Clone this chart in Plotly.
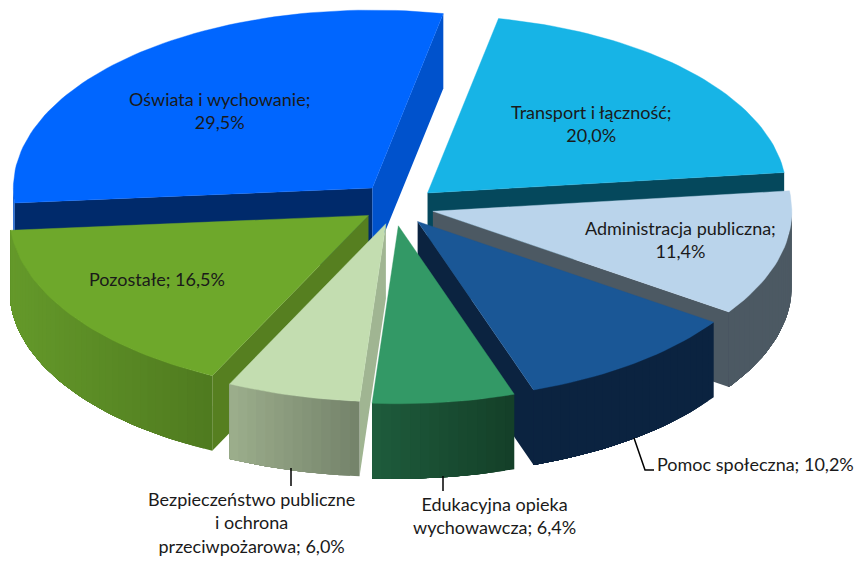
import math
import plotly.graph_objects as go

# ---- data ----
categories = ["Transport i łączność", "Administracja publiczna", "Pomoc społeczna",
              "Edukacyjna opieka wychowawcza", "Bezpieczeństwo publiczne i ochrona przeciwpożarowa",
              "Pozostałe", "Oświata i wychowanie"]
shares = [20.0, 11.4, 10.2, 6.4, 6.0, 16.5, 29.5]
explode = [0.108, 0.10, 0.095, 0.095, 0.12, 0.103, 0.12]

# ---- style ----
top_colors = ["#17B4E6", "#BAD4EB", "#1A5796", "#339966", "#C3DDB0", "#6EA82B", "#0066FF"]
wall_left = ["#05485C", "#4C5963", "#0B2340", "#1E5C3C", "#9CAE8C", "#64992A", "#0052CC"]
wall_right = ["#05485C", "#4C5963", "#0B2340", "#143F28", "#74826A", "#4F7A1F", "#0052CC"]
start_face = [None, None, None, None, "#A0B592", "#567F20", "#002A6B"]
end_face = ["#05485C", "#4C5963", "#0B2340", None, None, None, "#0052CC"]
nudge_x = [-1, -2, -3, -6, -3, -1, 1]
nudge_y = [1, 2, 3, 4, -2, 0, -1]
draw_order = [6, 0, 5, 1, 2, 4, 3]
START_DEG = 11.4
CX, CY, RX, RY, DEPTH = 400.0, 205.0, 359.0, 178.0, 75.0

labels = [
    ("Transport i łączność;<br>20,0%", 591, 123),
    ("Administracja publiczna;<br>11,4%", 680, 239),
    ("Pomoc społeczna; 10,2%", 755, 464),
    ("Edukacyjna opieka<br>wychowawcza; 6,4%", 494, 515),
    ("Bezpieczeństwo publiczne<br>i ochrona<br>przeciwpożarowa; 6,0%", 251, 522),
    ("Pozostałe; 16,5%", 157, 279),
    ("Oświata i wychowanie;<br>29,5%", 219, 110),
]
leaders = [([291, 291], [468, 486]), ([443, 443], [476, 491]),
           ([634, 645, 654], [438, 470, 470])]


def rim(cx, cy, deg, dy=0.0):
    t = math.radians(deg)
    return cx + RX * math.sin(t), cy - RY * math.cos(t) + dy


fig = go.Figure()


def poly(xs, ys, color, lw=0.0):
    fig.add_trace(go.Scatter(x=xs, y=ys, mode="lines", fill="toself", fillcolor=color,
                             line=dict(color=color, width=lw), hoverinfo="skip", showlegend=False))


def mix(c1, c2, f):
    a = [int(c1[i:i + 2], 16) for i in (1, 3, 5)]
    b = [int(c2[i:i + 2], 16) for i in (1, 3, 5)]
    return "#%02X%02X%02X" % tuple(round(p + (q - p) * f) for p, q in zip(a, b))


# slice angles come from the shares
spans = []
angle = START_DEG
total = sum(shares)
for s in shares:
    spans.append((angle, angle + 360 * s / total))
    angle += 360 * s / total

for i in draw_order:
    a, b = spans[i]
    mid = math.radians((a + b) / 2)
    cx = CX + explode[i] * RX * math.sin(mid) + nudge_x[i]
    cy = CY - explode[i] * RY * math.cos(mid) + nudge_y[i]
    # radial cut faces
    if start_face[i]:
        px, py = rim(cx, cy, a)
        poly([cx, px, px, cx, cx], [cy, py, py + DEPTH, cy + DEPTH, cy], start_face[i])
    if end_face[i]:
        px, py = rim(cx, cy, b)
        poly([cx, px, px, cx, cx], [cy, py, py + DEPTH, cy + DEPTH, cy], end_face[i])
    # outer wall, shaded in overlapping bands (each band runs to the far end, so no seams)
    lo, hi = max(a, 90), min(b, 270)
    if hi > lo:
        n = max(2, int((hi - lo) / 1.5))
        edges = [lo + (hi - lo) * k / n for k in range(n + 1)]
        xa = rim(cx, cy, hi)[0]
        xb = rim(cx, cy, lo)[0]
        for k in range(n):
            ds = edges[k:]
            pts = [rim(cx, cy, d) for d in ds]
            f = ((pts[0][0] + pts[1][0]) / 2 - xa) / (xb - xa)
            xs = [p[0] for p in pts] + [p[0] for p in reversed(pts)]
            ys = [p[1] for p in pts] + [p[1] + DEPTH for p in reversed(pts)]
            poly(xs + xs[:1], ys + ys[:1], mix(wall_left[i], wall_right[i], f))
    # top face
    n = max(8, int((b - a) / 1.5))
    pts = [rim(cx, cy, a + (b - a) * k / n) for k in range(n + 1)]
    poly([cx] + [p[0] for p in pts] + [cx], [cy] + [p[1] for p in pts] + [cy], top_colors[i], 0.4)

for xs, ys in leaders:
    fig.add_trace(go.Scatter(x=xs, y=ys, mode="lines", line=dict(color="#000000", width=1.5),
                             hoverinfo="skip", showlegend=False))

for text, x, y in labels:
    fig.add_annotation(x=x, y=y, text=text, showarrow=False, xanchor="center", yanchor="middle",
                       align="center", font=dict(family="Lato", size=18, color="#1A1A1A"))

fig.update_layout(width=855, height=561, margin=dict(l=0, r=0, t=0, b=0),
                  paper_bgcolor="white", plot_bgcolor="white", showlegend=False,
                  xaxis=dict(range=[0, 855], visible=False, fixedrange=True),
                  yaxis=dict(range=[561, 0], visible=False, fixedrange=True))
fig.write_html("out.html", config={"displayModeBar": False},
               post_script="document.body.style.margin='0';document.documentElement.style.overflow='hidden';")
